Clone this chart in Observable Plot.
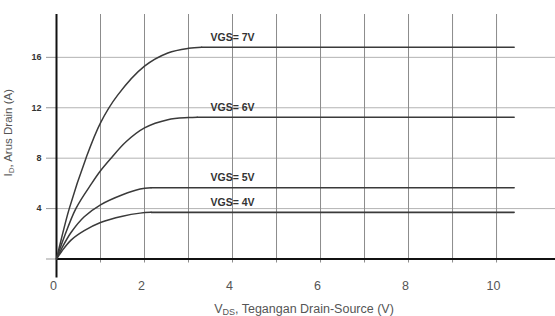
<!DOCTYPE html>
<html>
<head>
<meta charset="utf-8">
<script src="https://cdn.jsdelivr.net/npm/d3@7"></script>
<script src="https://cdn.jsdelivr.net/npm/@observablehq/plot@0.6"></script>
<style>
  html, body { margin: 0; padding: 0; background: #fff; }
  #chart svg { display: block; }
</style>
</head>
<body>
<div id="chart"></div>
<script>
// Series labels
const seriesNames = ["VGS= 7V", "VGS= 6V", "VGS= 5V", "VGS= 4V"];

// VDS (V) / ID (A)
const vds7 = [0, 0.1, 0.29, 0.67, 1, 1.39, 2, 2.53, 3, 3.3, 10.4];
const id7  = [0, 1.45, 4, 8, 10.8, 13.0, 15.3, 16.35, 16.72, 16.8, 16.8];

const vds6 = [0, 0.15, 0.44, 0.8, 1, 1.24, 1.58, 2, 2.53, 3, 3.2, 10.4];
const id6  = [0, 1.5, 4, 6.0, 7.0, 8, 9.3, 10.4, 11.05, 11.22, 11.25, 11.25];

const vds5 = [0, 0.12, 0.33, 0.63, 1, 1.5, 1.9, 2.15, 10.4];
const id5  = [0, 0.85, 2.1, 3.35, 4.3, 5.1, 5.55, 5.65, 5.65];

const vds4 = [0, 0.12, 0.33, 0.63, 1, 1.5, 1.9, 2.15, 10.4];
const id4  = [0, 0.62, 1.5, 2.25, 2.9, 3.4, 3.64, 3.7, 3.7];

// Axis ticks
const xTickLabels = [0, 2, 4, 6, 8, 10];
const xGrid = [1, 2, 3, 4, 5, 6, 7, 8, 9, 10];
const yTicks = [0, 4, 8, 12, 16];
const yGrid = [4, 8, 12, 16];

const xLabel = "VDS, Tegangan Drain-Source (V)";
const yLabel = "ID, Arus Drain (A)";

const seriesX = [vds7, vds6, vds5, vds4];
const seriesY = [id7, id6, id5, id4];
const riseRows = [];
const flatRows = [];
seriesNames.forEach((name, i) => {
  const xs = seriesX[i], ys = seriesY[i], n = xs.length;
  xs.forEach((x, j) => {
    const r = {vgs: name, vds: x, id: ys[j]};
    if (j < n - 1) riseRows.push(r);
    if (j >= n - 2) flatRows.push(r);
  });
});
const labelRows = seriesNames.map((name, i) => ({vgs: name, id: seriesY[i][seriesY[i].length - 1]}));

const font = "'Liberation Sans', Arial, sans-serif";

const chart = Plot.plot({
  width: 555,
  height: 316,
  marginLeft: 56,
  marginRight: 0,
  marginTop: 14,
  marginBottom: 57.5,
  style: {fontFamily: font, background: "#fff"},
  x: {domain: [0, 11.34]},
  y: {domain: [0, 19.4]},
  marks: [
    // horizontal gridlines
    Plot.ruleY(yGrid, {stroke: "#b3b3b3", strokeWidth: 1}),
    // vertical gridlines
    Plot.ruleX(xGrid, {stroke: "#8c8c8c", strokeWidth: 1}),
    // small ticks below x axis
    Plot.axisX({ticks: xGrid, tickSize: 4, tickFormat: () => "", label: null, stroke: "#8c8c8c"}),
    // long tick under the origin
    Plot.axisX({ticks: [0], tickSize: 19, tickFormat: () => "", label: null, stroke: "#111", strokeWidth: 2}),
    // x tick labels
    Plot.axisX({ticks: xTickLabels, tickSize: 0, tickPadding: 22, fontSize: 12.5, fill: "#555", dx: -3,
                label: xLabel, labelAnchor: "center", labelArrow: "none", labelOffset: 54}),
    // y ticks
    Plot.axisY({ticks: yTicks, tickSize: 10, tickPadding: 5, fontSize: 9, fontWeight: "bold", fill: "#333",
                stroke: "#999", tickFormat: d => d === 0 ? "" : d,
                label: yLabel, labelAnchor: "center", labelArrow: "none", labelOffset: 53}),
    // axes
    Plot.ruleX([0], {stroke: "#111", strokeWidth: 2}),
    Plot.ruleY([0], {stroke: "#111", strokeWidth: 2}),
    // curves: rising (ohmic) part and saturation plateau
    Plot.line(riseRows, {x: "vds", y: "id", z: "vgs", curve: "catmull-rom", stroke: "#3a3a3a", strokeWidth: 1.5}),
    Plot.line(flatRows, {x: "vds", y: "id", z: "vgs", curve: "linear", stroke: "#3a3a3a", strokeWidth: 1.6}),
    // series labels
    Plot.text(labelRows, {x: () => 4, y: "id", text: "vgs", dy: -10, fontSize: 10.5, fontWeight: "bold", fill: "#333"})
  ]
});

document.getElementById("chart").appendChild(chart);

// subscripts in axis labels
const svg = chart.tagName.toLowerCase() === "svg" ? chart : chart.querySelector("svg");
svg.querySelectorAll("text").forEach(t => {
  if (t.textContent === yLabel) {
    t.setAttribute("fill", "#555");
    t.setAttribute("font-size", "11.5");
    t.setAttribute("font-weight", "normal");
    t.innerHTML = 'I<tspan font-size="8" dy="2">D</tspan><tspan dy="-2">, Arus Drain (A)</tspan>';
    t.setAttribute("transform", (t.getAttribute("transform") || "") + " translate(4,0)");
  } else if (t.textContent === xLabel) {
    t.setAttribute("fill", "#555");
    t.setAttribute("font-size", "12.5");
    t.setAttribute("font-weight", "normal");
    t.innerHTML = 'V<tspan font-size="9" dy="2">DS</tspan><tspan dy="-2">, Tegangan Drain-Source (V)</tspan>';
    t.setAttribute("transform", (t.getAttribute("transform") || "") + " translate(-2,0)");
  }
});
</script>
</body>
</html>
